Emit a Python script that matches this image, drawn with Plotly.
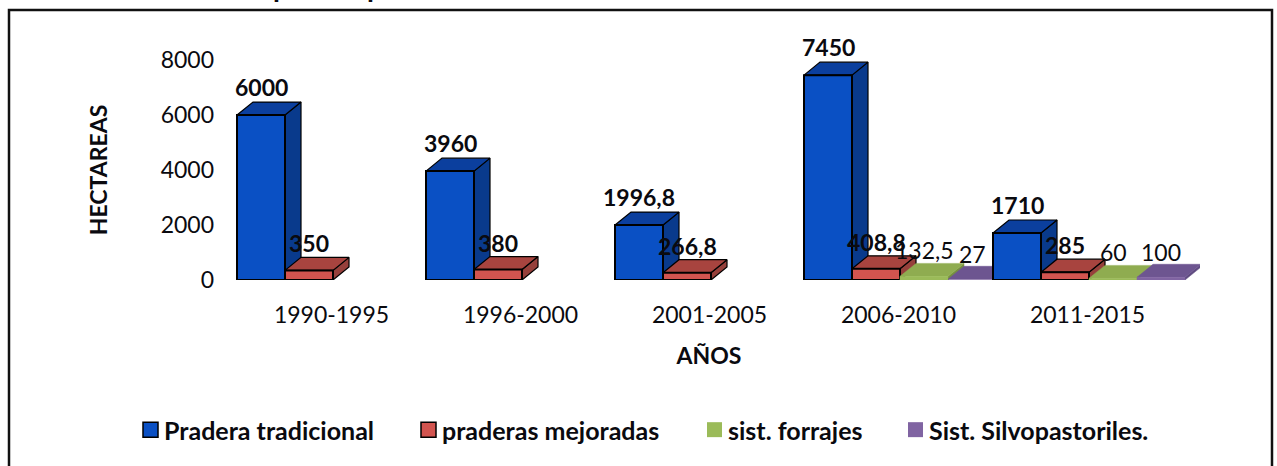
import plotly.graph_objects as go

periods = ["1990-1995", "1996-2000", "2001-2005", "2006-2010", "2011-2015"]
series_names = ["Pradera tradicional", "praderas mejoradas", "sist. forrajes", "Sist. Silvopastoriles."]
pradera = [6000, 3960, 1996.8, 7450, 1710]
mejoradas = [350, 380, 266.8, 408.8, 285]
forrajes = [None, None, None, 132.5, 60]
silvo = [None, None, None, 27, 100]
y_ticks = [0, 2000, 4000, 6000, 8000]

W, H = 1277, 466
L, R, T, B = 218, 1200, 60, 280.5
FONT = "Lato"
TXT = "#0a0a0f"
x_unit = 189.0
y_unit = (B - T) / 8000
bar_w = 48 / x_unit
dx = 16 / x_unit
dy = 13 / y_unit

values = [pradera, mejoradas, forrajes, silvo]
front_c = ["#0a50c4", "#d2544f", "#9bbb59", "#8064a2"]
top_c = ["#0b3f9e", "#a8443f", "#8fac50", "#6d5590"]
side_c = ["#093a8c", "#96403b", "#76903f", "#5f4a80"]
line_c = ["#000000", "#000000", None, None]
bold = [True, True, False, False]
label_lift = [15, 14, 13, 12]


def fmt(v):
    return (f"{v:g}").replace(".", ",")


def px_x(p):
    return (p - L) / (R - L)


def px_y(p):
    return 1 - (p - T) / (B - T)


fig = go.Figure()
annots = []


def poly(xs, ys, color, line, width):
    fig.add_trace(go.Scatter(
        x=xs + xs[:1], y=ys + ys[:1], mode="lines", fill="toself", fillcolor=color,
        line=dict(color=line or color, width=width if line else 0.5),
        hoverinfo="skip", showlegend=False, cliponaxis=False))


for g in range(len(periods)):
    for s in range(4):
        v = values[s][g]
        if v is None:
            continue
        x0 = g + s * bar_w
        x1 = x0 + bar_w
        poly([x1, x1 + dx, x1 + dx, x1], [0, dy, v + dy, v], side_c[s], line_c[s], 1.2)
        poly([x0, x1, x1 + dx, x0 + dx], [v, v, v + dy, v + dy], top_c[s], line_c[s], 1.2)
        poly([x0, x1, x1, x0], [0, 0, v, v], front_c[s], line_c[s], 2)

# value labels sit above all the bars
for g in range(len(periods)):
    for s in range(4):
        v = values[s][g]
        if v is None:
            continue
        annots.append(dict(
            x=g + s * bar_w + bar_w / 2, y=v + dy, yshift=label_lift[s],
            xref="x", yref="y", text=f"<b>{fmt(v)}</b>" if bold[s] else fmt(v),
            showarrow=False, font=dict(family=FONT, size=23, color=TXT)))

# legend
legend_x = [143, 421, 707, 908]
shapes = []
for i, name in enumerate(series_names):
    shapes.append(dict(
        type="rect", xref="paper", yref="paper",
        x0=px_x(legend_x[i]), x1=px_x(legend_x[i] + 15),
        y0=px_y(438), y1=px_y(423), fillcolor=front_c[i],
        line=dict(color="#000000", width=1.5) if line_c[i] else dict(width=0)))
    annots.append(dict(
        x=px_x(legend_x[i] + 19), y=px_y(431), xref="paper", yref="paper",
        xanchor="left", yanchor="middle", showarrow=False,
        text=f"<b>{name}</b>", font=dict(family=FONT, size=25, color=TXT)))

# chart frame
shapes.append(dict(
    type="rect", xref="paper", yref="paper",
    x0=px_x(9), x1=px_x(1272), y0=px_y(480), y1=px_y(10),
    line=dict(color="#111111", width=2.5)))

# clipped chart title fragments
for px in [271, 365]:
    annots.append(dict(
        x=px_x(px), y=px_y(3), xref="paper", yref="paper", yanchor="bottom", xanchor="left",
        yshift=-2, showarrow=False, text="<b>p</b>",
        font=dict(family=FONT, size=28, color=TXT)))

fig.update_layout(
    width=W, height=H, autosize=False,
    margin=dict(l=L, r=W - R, t=T, b=H - B, pad=0),
    paper_bgcolor="white", plot_bgcolor="white",
    font=dict(family=FONT, size=23, color=TXT),
    showlegend=False, shapes=shapes, annotations=annots,
    xaxis=dict(
        range=[(L - 237) / x_unit, (R - 237) / x_unit],
        tickvals=[g + 0.5 for g in range(len(periods))], ticktext=periods,
        showgrid=False, zeroline=False, showline=False, ticks="",
        ticklabelstandoff=19, tickfont=dict(family=FONT, size=23, color=TXT),
        title=dict(text="<b>AÑOS</b>", standoff=20, font=dict(family=FONT, size=23, color=TXT))),
    yaxis=dict(
        range=[0, 8000], tickvals=y_ticks,
        showgrid=False, zeroline=False, showline=False, ticks="",
        ticklabelstandoff=3, tickfont=dict(family=FONT, size=23, color=TXT),
        title=dict(text="<b>HECTAREAS</b>", standoff=46, font=dict(family=FONT, size=23, color=TXT))),
)

fig.write_html("out.html", config=dict(displayModeBar=False),
               post_script="document.body.style.margin='0';document.body.style.overflow='hidden';")
